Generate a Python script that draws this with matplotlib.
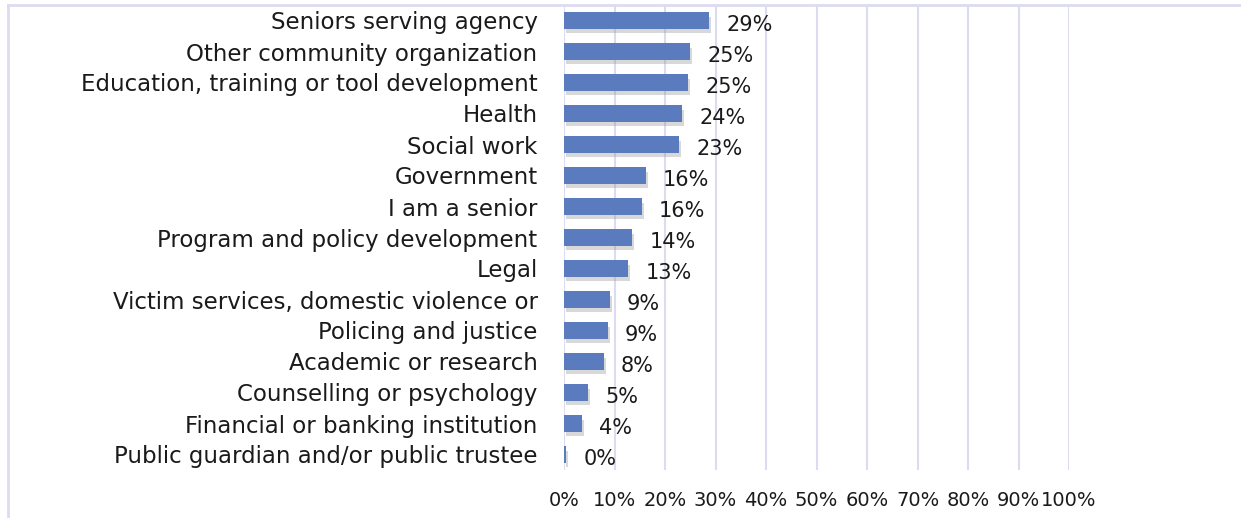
import matplotlib.pyplot as plt
import matplotlib.patheffects as pe
from matplotlib.lines import Line2D

categories = ['Seniors serving agency', 'Other community organization',
              'Education, training or tool development', 'Health', 'Social work',
              'Government', 'I am a senior', 'Program and policy development', 'Legal',
              'Victim services, domestic violence or', 'Policing and justice',
              'Academic or research', 'Counselling or psychology',
              'Financial or banking institution', 'Public guardian and/or public trustee']
values = [28.7, 25.0, 24.6, 23.4, 22.8, 16.2, 15.4, 13.5, 12.7, 9.1, 8.7, 7.9, 4.8, 3.6, 0.4]
labels = ['29%', '25%', '25%', '24%', '23%', '16%', '16%', '14%', '13%',
          '9%', '9%', '8%', '5%', '4%', '0%']
ticks = list(range(0, 101, 10))

bar_color = '#5b7bbf'
grid_color = '#dcdcf0'
text_color = '#1a1a1a'

fig = plt.figure(figsize=(12.41, 5.18), dpi=100)
ax = fig.add_axes([564 / 1241, 1 - 470 / 518, 505 / 1241, 465 / 518])

y = list(range(len(categories)))
bars = ax.barh(y, values, height=0.52, color=bar_color, zorder=3)
for b in bars:
    b.set_path_effects([pe.SimplePatchShadow(offset=(1.5, -3), shadow_rgbFace='#808080', alpha=0.3),
                        pe.Normal()])

for yi, v, lab in zip(y, values, labels):
    ax.text(v + 3.4, yi + 0.15, lab, va='center', ha='left', fontsize=15, color=text_color)

ax.set_xlim(0, 100)
ax.set_ylim(len(categories) - 0.5, -0.5)
ax.set_xticks(ticks)
ax.set_xticklabels([f'{t}%' for t in ticks], fontsize=14, color=text_color)
ax.set_yticks(y)
ax.set_yticklabels(categories, fontsize=16.5, color=text_color)
ax.tick_params(axis='x', length=0, pad=15)
ax.tick_params(axis='y', length=0, pad=19)
ax.grid(axis='x', color=grid_color, linewidth=1.5, zorder=0)
for s in ax.spines.values():
    s.set_visible(False)

# chart area border (top and left)
fig.add_artist(Line2D([8 / 1241, 8 / 1241], [0, 1 - 5 / 518], transform=fig.transFigure,
                      color=grid_color, linewidth=2))
fig.add_artist(Line2D([8 / 1241, 1], [1 - 5 / 518, 1 - 5 / 518], transform=fig.transFigure,
                      color=grid_color, linewidth=2))

fig.savefig('out.png', dpi=100)
